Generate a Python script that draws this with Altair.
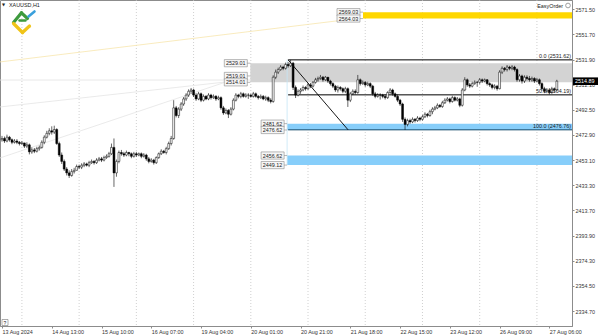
import altair as alt
import pandas as pd

# ---------------- data ----------------
first_open = 2469.0
closes = [
    2470, 2468, 2471, 2469, 2467, 2468, 2467, 2466, 2466.5,
    2464, 2465, 2459.5, 2461, 2460, 2462, 2463, 2467, 2471, 2474,
    2476, 2475, 2477, 2466, 2457, 2452, 2446, 2443, 2441, 2444,
    2445, 2448, 2447.5, 2449, 2450, 2449, 2451, 2452, 2451,
    2453, 2454, 2453, 2455, 2456, 2458, 2463, 2443, 2452, 2459,
    2458, 2457, 2459, 2458, 2456, 2458, 2457, 2458, 2456,
    2457, 2454, 2452, 2453, 2451, 2455, 2458, 2460, 2459, 2462,
    2466, 2470, 2494, 2488, 2493, 2497, 2501, 2504, 2507, 2508,
    2504, 2501, 2505, 2500, 2503, 2501, 2504, 2502, 2503,
    2501, 2502, 2494, 2490, 2492, 2489, 2493, 2500, 2504, 2503,
    2505, 2503, 2504, 2504, 2503, 2505, 2503, 2502, 2503,
    2501, 2502, 2500, 2499, 2518, 2522, 2524, 2526, 2525, 2528,
    2527, 2529, 2510, 2504, 2507, 2508, 2510, 2509, 2512,
    2511, 2514, 2516, 2517, 2518, 2516, 2518, 2515, 2513,
    2511, 2508, 2510, 2509, 2507, 2509, 2500, 2505, 2507, 2506,
    2516, 2513, 2514, 2512, 2513, 2511, 2505, 2503, 2504,
    2504, 2503, 2502, 2506, 2508, 2505, 2503, 2500, 2497, 2485,
    2481, 2484, 2483, 2485, 2484, 2486, 2485, 2487, 2489, 2488,
    2491, 2493, 2494, 2496, 2495, 2498, 2500, 2501, 2499,
    2502, 2500, 2501, 2496, 2508, 2516, 2512, 2511, 2513, 2514,
    2514, 2516, 2515, 2516, 2513, 2512, 2510, 2511, 2509,
    2522, 2525, 2524, 2526, 2525, 2526, 2524, 2516, 2519, 2515,
    2518, 2517, 2516, 2517, 2515, 2516, 2513, 2509, 2507,
    2508, 2506, 2509, 2508, 2514.89,
]
highs = [
    2472, 2471.5, 2473, 2472, 2470, 2469.5, 2469.5, 2468, 2468,
    2466.5, 2467, 2466, 2463, 2462.5, 2463.5, 2464.5, 2468.5, 2472.5, 2476,
    2478, 2479.5, 2480, 2478, 2467.5, 2459, 2453.5, 2447.5, 2445, 2446,
    2447, 2449.5, 2449.5, 2450.5, 2451.5, 2451, 2452.5, 2453.5, 2453,
    2454.5, 2455.5, 2455.5, 2456.5, 2457.5, 2459.5, 2466, 2470, 2453.5, 2460.5,
    2461, 2459.5, 2460.5, 2459.5, 2459, 2459.5, 2459.5, 2459, 2459,
    2458.5, 2458, 2455.5, 2454.5, 2454, 2456, 2459, 2461.5, 2461, 2463.5,
    2467.5, 2472, 2500, 2495.5, 2494.5, 2498.5, 2502.5, 2505.5, 2508.5, 2509.6,
    2509, 2505.5, 2506.5, 2506, 2504.5, 2504, 2505.5, 2505, 2504.5,
    2504, 2503.5, 2503, 2495.5, 2493.5, 2493, 2494.5, 2501.5, 2505.5, 2505,
    2506.5, 2506, 2505.5, 2505.5, 2505, 2506.5, 2506, 2504, 2504.5,
    2504, 2503.5, 2503, 2501.5, 2519.5, 2524, 2525.5, 2527.5, 2527, 2529.5,
    2530, 2531.62, 2530, 2511.5, 2508.5, 2509.5, 2511.5, 2511, 2513.5,
    2513.5, 2515, 2517.5, 2518.5, 2519.8, 2519, 2519, 2518, 2516,
    2514, 2512, 2511.5, 2511, 2510, 2510.5, 2510, 2506.5, 2508.5, 2508.5,
    2519.8, 2517, 2515.5, 2515, 2514.5, 2514, 2512, 2506.5, 2505.5,
    2505.5, 2505, 2504.5, 2507, 2509.5, 2509, 2506, 2504.5, 2501, 2498,
    2486.5, 2485.5, 2485.5, 2486.5, 2486, 2487.5, 2487, 2488.5, 2490.5, 2490,
    2492.5, 2494.5, 2495.5, 2497.5, 2497, 2499.5, 2501.5, 2502.5, 2502,
    2503.5, 2503, 2502.5, 2502, 2509.5, 2518, 2517, 2513.5, 2514.5, 2515.5,
    2515, 2517.4, 2517, 2517, 2516.5, 2514, 2513, 2512.5, 2512,
    2523.5, 2526.5, 2526, 2527.6, 2527, 2527.5, 2527, 2525, 2520.5, 2520,
    2519.5, 2519.5, 2519, 2518.5, 2518, 2517.5, 2517, 2514, 2510.5,
    2509.5, 2509.5, 2510.5, 2510, 2516,
]
lows = [
    2467.5, 2466.5, 2467, 2467.5, 2465.5, 2466, 2465.5, 2464.5, 2465,
    2462.5, 2462.5, 2457.5, 2458, 2458.5, 2459, 2460.5, 2462, 2465.5, 2470,
    2472.5, 2473, 2473.5, 2465, 2455.5, 2450, 2444.5, 2441, 2439, 2440,
    2442.5, 2445, 2446, 2446, 2447.5, 2448, 2447.5, 2450, 2449.5,
    2450, 2452, 2451.5, 2452, 2454, 2455, 2457, 2432, 2440, 2450.5,
    2456.5, 2455.5, 2456, 2456, 2454.5, 2455, 2455.5, 2456, 2454.5,
    2455, 2452.5, 2450.5, 2451, 2449.5, 2450, 2454, 2457, 2458, 2457.5,
    2461, 2464.5, 2469, 2486.5, 2486, 2491.5, 2495.5, 2499.5, 2502.5, 2505,
    2502.5, 2499.5, 2500, 2498.5, 2499, 2500, 2500, 2500.5, 2501,
    2499.5, 2500, 2492.5, 2488.5, 2489, 2486, 2488, 2492, 2499, 2501.5,
    2501.5, 2502, 2502, 2501, 2502, 2502, 2502, 2500.5, 2501,
    2500, 2499.5, 2498.5, 2497.5, 2498, 2516.5, 2520.5, 2523, 2523.5, 2524,
    2525.5, 2526, 2508, 2501.7, 2503, 2505, 2507, 2507.5, 2508,
    2509.5, 2510, 2513, 2514.5, 2516, 2514.5, 2515, 2513.5, 2511.5,
    2509.5, 2506.5, 2506, 2507.5, 2505.5, 2505.5, 2494.7, 2498.5, 2504, 2504.5,
    2505, 2511.5, 2512, 2510.5, 2511, 2509.5, 2503.5, 2501.5, 2502,
    2500.5, 2501.5, 2500.5, 2501, 2505, 2503.5, 2502, 2498.5, 2495.5, 2483,
    2476.76, 2479.5, 2481.5, 2482, 2482.5, 2483, 2483.5, 2484, 2486, 2486.5,
    2487, 2489, 2492, 2493, 2494, 2494, 2497, 2499, 2497.5,
    2498, 2499, 2499, 2494.5, 2495, 2507, 2510.5, 2509.5, 2510, 2512,
    2510.5, 2512.5, 2513.5, 2514, 2511.5, 2510.5, 2508.5, 2508.5, 2507.5,
    2508.5, 2520.5, 2522.5, 2522.5, 2523.5, 2523.5, 2522.5, 2514.5, 2514.5, 2513,
    2513.5, 2515.5, 2514.5, 2514.5, 2513.5, 2514, 2511.5, 2507.5, 2505.5,
    2505.5, 2504.5, 2505, 2506, 2507,
]
assert len(closes) == len(highs) == len(lows)

date_pos = [0, 20, 40, 60, 80, 100, 120, 140, 160, 180, 200, 220]
date_labels = ["13 Aug 2024", "14 Aug 13:00", "15 Aug 10:00", "16 Aug 07:00",
               "19 Aug 04:00", "20 Aug 01:00", "20 Aug 21:00", "21 Aug 18:00",
               "22 Aug 15:00", "23 Aug 12:00", "26 Aug 09:00", "27 Aug 06:00"]
grid_pos = [8, 31, 54, 77, 100, 123, 146, 169, 192, 215]
price_ticks = [2571.50, 2551.70, 2531.90, 2512.10, 2492.50, 2472.90, 2453.10,
               2433.30, 2413.70, 2393.90, 2374.30, 2354.50, 2334.70]

x_min, x_max = -0.804, 229.1
y_min, y_max = 2322.95, 2578.56

zone_start = [145.1, 99.8, 114.6, 114.6]
zone_low = [2564.03, 2514.01, 2476.62, 2449.12]
zone_high = [2569.03, 2529.01, 2481.62, 2456.62]
zone_color = ["#FFD700", "#D3D3D3", "#87CEFA", "#87CEFA"]

label_x = [145.1, 145.1, 99.8, 99.8, 99.8, 114.6, 114.6, 114.6, 114.6]
label_p = [2569.03, 2564.03, 2529.01, 2519.01, 2514.01, 2481.62, 2476.62, 2456.62, 2449.12]

fib_start = 115
fib_levels = [2531.62, 2504.19, 2476.76]
fib_names = ["0.0 (2531.62)", "50.0 (2504.19)", "100.0 (2476.76)"]
fib_colors = ["#000000", "#000000", "#1b4d6b"]
diag_end = 139.1

faint_x1 = [x_min, x_min, x_min, x_min]
faint_p1 = [2530.0, 2494.7, 2454.7, 2515.8]
faint_x2 = [136.0, 90.0, 90.0, 99.8]
faint_p2 = [2562.5, 2514.3, 2514.3, 2515.8]
faint_col = ["#f8e6ad", "#e4e4e4", "#e4e4e4", "#e2e2e2"]

last_price = 2514.89

# ---------------- frames ----------------
opens = [first_open] + closes[:-1]
bars = pd.DataFrame({"i": list(range(len(closes))), "open": opens, "close": closes,
                     "high": highs, "low": lows})
zones = pd.DataFrame({"s": zone_start, "e": [x_max] * len(zone_start),
                      "lo": zone_low, "hi": zone_high, "c": zone_color})
zlabels = pd.DataFrame({"x": label_x, "p": label_p, "t": [f"{p:.2f}" for p in label_p]})
fibs = pd.DataFrame({"s": [fib_start] * 3, "e": [x_max] * 3, "p": fib_levels,
                     "t": fib_names, "c": fib_colors})
diag = pd.DataFrame({"x1": [fib_start], "x2": [diag_end],
                     "p1": [fib_levels[0]], "p2": [fib_levels[2]]})
faint = pd.DataFrame({"x1": faint_x1, "x2": faint_x2, "p1": faint_p1, "p2": faint_p2, "c": faint_col})
grid = pd.DataFrame({"g": grid_pos})
one = pd.DataFrame({"p": [last_price], "t": [f"{last_price:.2f}"]})
vline = pd.DataFrame({"x": [114.6], "p1": [2531.62], "p2": [2449.12]})

XS = alt.Scale(domain=[x_min, x_max], nice=False, zero=False)
YS = alt.Scale(domain=[y_min, y_max], nice=False, zero=False)
FONT = "Liberation Sans"
FS = 5.4

label_expr = " : ".join(f"datum.value == {p} ? '{d}'" for p, d in zip(date_pos, date_labels)) + " : ''"

x_axis = alt.Axis(values=date_pos, labelExpr=label_expr, title=None, grid=False,
                  labelAlign="left", labelBaseline="top", labelFontSize=FS, labelFont=FONT,
                  labelColor="#333333", labelPadding=1, tickSize=2, tickColor="#8c8c8c",
                  domainColor="#8c8c8c", labelFlush=False, labelOverlap=False,
                  labelBound=False, zindex=0)
y_axis = alt.Axis(orient="right", values=price_ticks, format=".2f", title=None, grid=False,
                  labelFontSize=FS, labelFont=FONT, labelColor="#333333", labelPadding=1,
                  tickSize=2, tickColor="#8c8c8c", domainColor="#8c8c8c",
                  labelOverlap=False, labelFlush=False, labelBound=False, zindex=0)


def X(f):
    return alt.X(f, type="quantitative", scale=XS, axis=x_axis)


def Y(f):
    return alt.Y(f, type="quantitative", scale=YS, axis=y_axis)


# grid lines
grid_layer = alt.Chart(grid).mark_rule(color="#c4c4c4", strokeWidth=0.8, strokeDash=[1, 2]).encode(
    x=X("g"), y=alt.value(0), y2=alt.value(326))

faint_layer = alt.Chart(faint).mark_rule(strokeWidth=0.8).encode(
    x=X("x1"), x2="x2:Q", y=Y("p1"), y2="p2:Q",
    color=alt.Color("c:N", scale=None))

zone_layer = alt.Chart(zones).mark_rect().encode(
    x=X("s"), x2="e:Q", y=Y("lo"), y2="hi:Q", fill=alt.Fill("c:N", scale=None))

vline_layer = alt.Chart(vline).mark_rule(color="#c6e6f8", strokeWidth=0.8).encode(
    x=X("x"), y=Y("p1"), y2="p2:Q")

zbox = alt.Chart(zlabels).mark_rect(fill="#f6f6f6", stroke="#8a8a8a", strokeWidth=0.6,
                                    xOffset=-26, x2Offset=-3, yOffset=-3.6, y2Offset=3.6).encode(
    x=X("x"), x2="x:Q", y=Y("p"), y2="p:Q")
zdash = alt.Chart(zlabels).mark_rule(color="#8a8a8a", strokeWidth=0.6, xOffset=-3, x2Offset=0).encode(
    x=X("x"), x2="x:Q", y=Y("p"))
ztext = alt.Chart(zlabels).mark_text(font=FONT, fontSize=FS, color="#222222", dx=-14.5,
                                     align="center", baseline="middle").encode(
    x=X("x"), y=Y("p"), text="t:N")

fib_layer = alt.Chart(fibs).mark_rule(strokeWidth=1).encode(
    x=X("s"), x2="e:Q", y=Y("p"), color=alt.Color("c:N", scale=None))
fib_text = alt.Chart(fibs).mark_text(font=FONT, fontSize=FS, align="right", baseline="bottom",
                                     dx=-1, dy=-0.5, color="#1a1a1a").encode(
    x=X("e"), y=Y("p"), text="t:N")
diag_layer = alt.Chart(diag).mark_rule(color="#000000", strokeWidth=0.9).encode(
    x=X("x1"), x2="x2:Q", y=Y("p1"), y2="p2:Q")

candle_base = alt.Chart(bars).transform_calculate(
    top="max(datum.open, datum.close)", bot="min(datum.open, datum.close)",
    hi2="max(datum.high, max(datum.open, datum.close))",
    lo2="min(datum.low, min(datum.open, datum.close))",
    xl="datum.i - 0.38", xr="datum.i + 0.38")
wicks = candle_base.mark_rule(color="#000000", strokeWidth=0.6).encode(
    x=X("i"), y=Y("lo2"), y2="hi2:Q")
bodies = candle_base.mark_rect(stroke="#000000", strokeWidth=0.5).encode(
    x=X("xl"), x2="xr:Q", y=Y("top"), y2="bot:Q",
    fill=alt.condition("datum.close >= datum.open", alt.value("#ffffff"), alt.value("#000000")))

price_box = alt.Chart(one).mark_rect(fill="#000000", yOffset=-3.8, y2Offset=3.8).encode(
    x=alt.value(573), x2=alt.value(598), y=Y("p"), y2="p:Q")
price_txt = alt.Chart(one).mark_text(font=FONT, fontSize=FS, color="#ffffff", align="left",
                                     baseline="middle").encode(
    x=alt.value(575), y=Y("p"), text="t:N")

deco = pd.DataFrame({"t": ["XAUUSD,H1"]})
title_txt = alt.Chart(deco).mark_text(font=FONT, fontSize=FS, align="left", baseline="middle",
                                      color="#222222").encode(
    x=alt.value(9), y=alt.value(5), text="t:N")
tri = alt.Chart(deco).mark_text(font="DejaVu Sans", fontSize=4, align="left", baseline="middle",
                                color="#222222", text="▼").encode(
    x=alt.value(2), y=alt.value(5))
easy_txt = alt.Chart(deco).mark_text(font=FONT, fontSize=FS, align="right", baseline="middle",
                                     color="#222222", text="EasyOrder").encode(
    x=alt.value(563), y=alt.value(6))
easy_icon = alt.Chart(deco).mark_point(shape="circle", size=22, filled=False, stroke="#555555",
                                       strokeWidth=0.8).encode(
    x=alt.value(568), y=alt.value(5.5))
q_box = alt.Chart(deco).mark_rect(fill="#ffffff", stroke="#777777", strokeWidth=0.6).encode(
    x=alt.value(2), x2=alt.value(8), y=alt.value(319.5), y2=alt.value(325.5))
q_txt = alt.Chart(deco).mark_text(font=FONT, fontSize=5, align="center", baseline="middle",
                                  color="#222222", text="?").encode(
    x=alt.value(5), y=alt.value(322.5))


def seg(x1, y1, x2, y2, color, w=3.2):
    return alt.Chart(deco).mark_rule(color=color, strokeWidth=w, strokeCap="round").encode(
        x=alt.value(x1), y=alt.value(y1), x2=alt.value(x2), y2=alt.value(y2))


logo = [
    seg(13.5, 22.5, 21.5, 12.8, "#3d9a3d"),
    seg(21.5, 12.8, 27.5, 18.5, "#3d9a3d"),
    seg(19.5, 20.5, 25.5, 20.5, "#3d9a3d", 2.4),
    seg(13.5, 23.5, 22.5, 32.5, "#f0c419"),
    seg(22.5, 32.5, 29.5, 26.0, "#f0c419"),
    seg(28.5, 16.5, 34.5, 11.5, "#3aa0dc", 2.6),
]

chart = alt.layer(
    grid_layer, faint_layer, zone_layer, vline_layer, zbox, zdash, ztext,
    fib_layer, diag_layer, wicks, bodies, fib_text, price_box, price_txt,
    title_txt, tri, easy_txt, easy_icon, q_box, q_txt, *logo,
).properties(
    width=572, height=326,
    autosize=alt.AutoSizeParams(type="none"),
    padding={"left": 0, "top": 0, "right": 26, "bottom": 10},
    background="#ffffff",
).configure_view(stroke="#8c8c8c", strokeWidth=1)

chart.save("out.html", embed_options={"renderer": "svg", "actions": False})
